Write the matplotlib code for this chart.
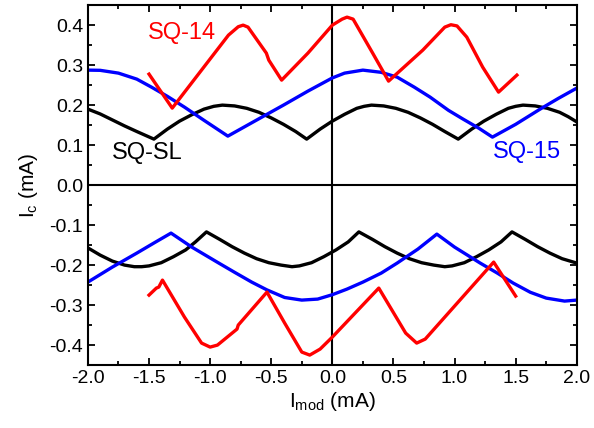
import matplotlib
matplotlib.use("Agg")
import matplotlib.pyplot as plt
from matplotlib.ticker import MultipleLocator, FormatStrFormatter

plt.rcParams['font.family'] = ['Liberation Sans', 'DejaVu Sans']
plt.rcParams['mathtext.fontset'] = 'custom'
plt.rcParams['mathtext.rm'] = 'Liberation Sans'
plt.rcParams['mathtext.it'] = 'Liberation Sans:italic'

# SQ-SL (black)
sl_pos_x = [-2.0, -1.9, -1.8, -1.7, -1.6, -1.46,
            -1.35, -1.25, -1.15, -1.05, -0.97, -0.9, -0.8, -0.7, -0.6, -0.5, -0.4, -0.3, -0.21,
            -0.1, 0.0, 0.1, 0.2, 0.26, 0.32, 0.42, 0.52, 0.62, 0.72, 0.82, 0.92, 1.03,
            1.14, 1.24, 1.34, 1.44, 1.5, 1.56, 1.66, 1.76, 1.86, 1.93, 2.0]
sl_pos_y = [0.19, 0.178, 0.163, 0.148, 0.134, 0.115,
            0.14, 0.16, 0.176, 0.19, 0.197, 0.2, 0.198, 0.192, 0.182, 0.168, 0.152, 0.134, 0.115,
            0.14, 0.16, 0.177, 0.192, 0.197, 0.2, 0.198, 0.192, 0.182, 0.168, 0.152, 0.134, 0.115,
            0.14, 0.16, 0.177, 0.192, 0.197, 0.2, 0.198, 0.192, 0.182, 0.171, 0.158]
sl_neg_x = [-2.0, -1.9, -1.8, -1.7, -1.62, -1.56, -1.5, -1.4, -1.3, -1.2, -1.12, -1.03,
            -0.92, -0.82, -0.72, -0.62, -0.52, -0.42, -0.33, -0.27, -0.17, -0.07, 0.03, 0.13, 0.217,
            0.33, 0.43, 0.53, 0.63, 0.73, 0.83, 0.92, 0.98, 1.08, 1.18, 1.28, 1.38, 1.47,
            1.58, 1.68, 1.78, 1.88, 2.0]
sl_neg_y = [-0.157, -0.175, -0.19, -0.2, -0.204, -0.204, -0.202, -0.194, -0.179, -0.162, -0.142, -0.117,
            -0.136, -0.154, -0.17, -0.184, -0.194, -0.2, -0.204, -0.202, -0.194, -0.179, -0.162, -0.142, -0.117,
            -0.136, -0.154, -0.17, -0.184, -0.194, -0.2, -0.204, -0.202, -0.194, -0.179, -0.162, -0.142, -0.117,
            -0.136, -0.154, -0.17, -0.184, -0.195]

# SQ-15 (blue)
s15_pos_x = [-2.0, -1.9, -1.75, -1.6, -1.48, -1.35, -1.21, -1.05, -0.855, -0.6, -0.4, -0.2, 0.0,
             0.1, 0.25, 0.4, 0.53, 0.67, 0.8, 0.95, 1.07, 1.2, 1.31, 1.5, 1.7, 1.85, 2.0]
s15_pos_y = [0.2875, 0.287, 0.28, 0.265, 0.245, 0.222, 0.195, 0.162, 0.1225, 0.166, 0.2, 0.235, 0.268,
             0.28, 0.2875, 0.282, 0.27, 0.245, 0.22, 0.187, 0.165, 0.142, 0.12, 0.152, 0.19, 0.217, 0.2425]
s15_neg_x = [-2.0, -1.8, -1.6, -1.45, -1.32, -1.15, -0.94, -0.8, -0.66, -0.535, -0.39, -0.25, -0.12,
             0.0, 0.12, 0.25, 0.4, 0.53, 0.7, 0.855, 1.0, 1.21, 1.35, 1.48, 1.62, 1.75, 1.9, 2.0]
s15_neg_y = [-0.2425, -0.205, -0.17, -0.143, -0.12, -0.155, -0.193, -0.218, -0.2425, -0.262, -0.281, -0.2875, -0.285,
             -0.274, -0.26, -0.2425, -0.22, -0.195, -0.16, -0.1225, -0.155, -0.195, -0.22, -0.245, -0.268, -0.2825, -0.29, -0.2875]

# SQ-14 (red)
s14_pos_x = [-1.5, -1.31, -0.85, -0.77, -0.73, -0.69, -0.54, -0.52, -0.415, -0.2, 0.0, 0.08, 0.12, 0.17,
             0.33, 0.46, 0.74, 0.92, 0.97, 1.02, 1.1, 1.23, 1.36, 1.51]
s14_pos_y = [0.2775, 0.1925, 0.375, 0.396, 0.4, 0.395, 0.33, 0.3125, 0.2625, 0.33, 0.4, 0.415, 0.42, 0.415,
             0.33, 0.26, 0.3375, 0.395, 0.401, 0.398, 0.37, 0.295, 0.2325, 0.275]
s14_neg_x = [-1.5, -1.44, -1.42, -1.39, -1.21, -1.07, -1.0, -0.94, -0.78, -0.77, -0.535, -0.39, -0.25, -0.185,
             -0.1, 0.0, 0.38, 0.6, 0.69, 0.76, 1.32, 1.5]
s14_neg_y = [-0.275, -0.2575, -0.255, -0.2375, -0.33, -0.395, -0.405, -0.4, -0.36, -0.35, -0.2675, -0.345, -0.4175, -0.425,
             -0.41, -0.38, -0.2575, -0.37, -0.395, -0.385, -0.1925, -0.2775]

fig = plt.figure(figsize=(5.94, 4.28), dpi=100)
ax = fig.add_axes([0.148, 0.147, 0.823, 0.841])

lw = 2.4
ax.axhline(0, color='black', lw=1.5, zorder=1)
ax.axvline(0, color='black', lw=1.5, zorder=1)
ax.plot(sl_pos_x, sl_pos_y, color='black', lw=lw)
ax.plot(sl_neg_x, sl_neg_y, color='black', lw=lw)
ax.plot(s15_pos_x, s15_pos_y, color='#0000ff', lw=lw)
ax.plot(s15_neg_x, s15_neg_y, color='#0000ff', lw=lw)
ax.plot(s14_pos_x, s14_pos_y, color='#ff0000', lw=lw)
ax.plot(s14_neg_x, s14_neg_y, color='#ff0000', lw=lw)

ax.text(-1.51, 0.38, 'SQ-14', color='#ff0000', fontsize=17, va='center', ha='left')
ax.text(-1.80, 0.08, 'SQ-SL', color='black', fontsize=17, va='center', ha='left')
ax.text(1.31, 0.082, 'SQ-15', color='#0000ff', fontsize=17, va='center', ha='left')

ax.set_xlim(-2.0, 2.0)
ax.set_ylim(-0.45, 0.45)
ax.xaxis.set_major_locator(MultipleLocator(0.5))
ax.xaxis.set_minor_locator(MultipleLocator(0.25))
ax.yaxis.set_major_locator(MultipleLocator(0.1))
ax.yaxis.set_minor_locator(MultipleLocator(0.05))
ax.xaxis.set_major_formatter(FormatStrFormatter('%.1f'))
ax.yaxis.set_major_formatter(FormatStrFormatter('%.1f'))
ax.tick_params(which='both', direction='in', top=True, right=True, width=1.3, labelsize=14)
ax.tick_params(which='major', length=5)
ax.tick_params(which='minor', length=3)
for s in ax.spines.values():
    s.set_linewidth(1.5)

ax.set_xlabel(r'I$_{\mathrm{mod}}$ (mA)', fontsize=15, labelpad=2)
ax.set_ylabel(r'I$_{\mathrm{c}}$ (mA)', fontsize=15, labelpad=7)

fig.savefig('out.png', dpi=100)
